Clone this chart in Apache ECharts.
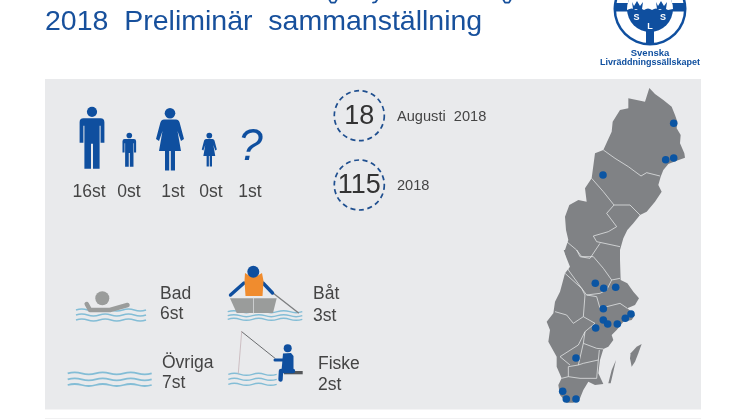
<!DOCTYPE html>
<html><head><meta charset="utf-8">
<style>html,body{margin:0;padding:0;background:#fff}#c{width:746px;height:419px}</style>
<script src="https://cdn.jsdelivr.net/npm/echarts@6/dist/echarts.min.js"></script>
</head><body><div id="c"></div>
<script>
const titleText = '2018  Preliminär  sammanställning';
const personCounts = [16, 0, 1, 0, 1];
const dateNumber = '18', dateLabel = 'Augusti  2018';
const yearNumber = '115', yearLabel = '2018';
const activityNames = ['Bad', 'Båt', 'Övriga', 'Fiske'];
const activityCounts = [6, 3, 7, 2];
const logoLines = ['Svenska', 'Livräddningssällskapet'];

// incident locations (x, y on the picture)
const incidentDots = [[673.7,123.3],[673.7,158],[665.7,159.7],[603,175],[595.3,283.3],[603.7,288.3],[615.7,287.3],[603.3,308.7],[603.3,320],[607.7,324],[617.3,324],[625.3,318.3],[631,314],[595.7,328],[576,358],[562.7,391.3],[566.3,399],[576,399]];

// map geometry
const N = p => p.map(a => [540 + a[0] / 3, 90 + a[1] / 3]);
const S = p => p.map(a => [540 + a[0] / 3, 250 + a[1] / 3]);
const mainland = [].concat(
  N([[328,-6],[345,12],[370,30],[395,50],[405,75],[412,95],[410,115],[422,135],[420,160],[433,190],[435,203],[410,212],[385,222],[370,240],[362,260],[355,285],[365,305],[345,335],[320,365],[300,375],[280,400],[262,420],[250,445],[240,480]]),
  S([[240,30],[242,90],[262,100],[280,125],[297,145],[285,165],[262,175],[285,195],[275,210],[250,215],[230,240],[215,255],[220,270],[205,290],[190,297],[180,330],[175,370],[190,402],[165,405],[145,395],[130,420],[120,445],[100,458],[80,458],[60,435],[55,405],[65,385],[50,350],[50,320],[25,275],[30,240],[20,215],[40,190],[45,155],[60,125],[75,70],[90,50],[70,0]]),
  N([[75,480],[85,450],[78,420],[75,380],[88,345],[115,330],[140,335],[135,295],[155,265],[165,190],[190,180],[215,125],[218,95],[240,60],[265,55],[265,25],[315,35]])
);
const islands = [
  S([[272,310],[290,290],[305,282],[295,310],[285,335],[275,350],[270,325]]),
  S([[205,400],[215,360],[228,330],[220,365],[212,400]])
];
const borders = [
  N([[190,180],[225,205],[265,230],[303,258],[320,248],[360,258]]),
  N([[155,265],[190,305],[222,345],[270,345],[300,375]]),
  N([[222,345],[200,370],[230,410],[205,425],[160,438],[170,455],[240,470]]),
  N([[80,455],[110,480],[120,500],[150,505],[180,460]]),
  S([[110,0],[125,20],[160,20],[190,55],[215,90],[240,85]]),
  S([[70,0],[85,60],[125,115],[140,135],[180,130],[200,120],[215,90]]),
  S([[75,70],[125,115],[135,135],[130,200],[100,220],[80,195],[45,185]]),
  S([[140,135],[170,140],[180,175],[240,160],[262,175]]),
  S([[130,200],[165,220],[135,245],[115,285],[60,320],[90,345]]),
  S([[135,245],[130,280],[170,295],[190,297]]),
  S([[130,280],[115,345],[85,350],[85,380],[65,385]]),
  S([[85,380],[120,385],[170,385],[175,330],[178,300]]),
  S([[115,345],[130,340],[175,330]])
];

const BLUE = '#0f4f9f', DARK = '#444444', FONT = '"Liberation Sans", Arial, sans-serif';
const WAVE = '#83bdd6', GREY = '#9a9c9b';

function txt(text, x, y, size, o) {
  o = o || {};
  return { type: 'text', x, y, style: { text, font: (o.style || '') + ' ' + (o.weight || '') + ' ' + size + 'px ' + FONT, fill: o.fill || DARK, textAlign: o.align || 'left', textVerticalAlign: 'middle', verticalAlign: 'middle' } };
}
function wavePath(x0, x1, y, n) {
  const step = (x1 - x0) / (n * 2);
  let d = 'M' + x0 + ' ' + y;
  for (let i = 0; i < n * 2; i++) {
    const s = i % 2 ? 1 : -1;
    d += ' Q' + (x0 + step * (i + .5)) + ' ' + (y + s * 2) + ' ' + (x0 + step * (i + 1)) + ' ' + y;
  }
  return d;
}
function waves(x0, x1, ys, n, lw) {
  return ys.map(y => ({ type: 'path', shape: { pathData: wavePath(x0, x1, y, n) }, style: { fill: 'none', stroke: WAVE, lineWidth: lw || 1.6 } }));
}
function line(pts, stroke, lw, dash) {
  return { type: 'polyline', shape: { points: pts }, style: { fill: 'none', stroke, lineWidth: lw, lineCap: 'round', lineJoin: 'round', lineDash: dash } };
}
function manIcon(x, y, k) {
  return { type: 'group', x, y, scaleX: k, scaleY: k, children: [
    { type: 'circle', shape: { cx: 0, cy: 5.1, r: 5.1 }, style: { fill: BLUE } },
    { type: 'path', shape: { pathData: 'M-8.5 11.5 H8.5 Q12.4 11.5 12.4 15.5 V36 H8.6 V19 H7.6 V62 H1 V37 H-1 V62 H-7.6 V19 H-8.6 V36 H-12.4 V15.5 Q-12.4 11.5 -8.5 11.5Z' }, style: { fill: BLUE } }
  ] };
}
function womanIcon(x, y, k) {
  return { type: 'group', x, y, scaleX: k, scaleY: k, children: [
    { type: 'circle', shape: { cx: 0, cy: 5.3, r: 5.3 }, style: { fill: BLUE } },
    { type: 'path', shape: { pathData: 'M-6 11.5 H6 Q8.6 11.5 9.6 14.5 L14 31 L11 33 L7.5 23 L11 43 H5 V62.5 H0.8 V43 H-0.8 V62.5 H-5 V43 H-11 L-7.5 23 L-11 33 L-14 31 L-9.6 14.5 Q-8.6 11.5 -6 11.5Z' }, style: { fill: BLUE } }
  ] };
}
const crown = 'M0 1 L2 5 L5 0 L8 5 L11 1 L10 8 H1Z';

const panel = [
  { type: 'rect', shape: { x: 45, y: 79, width: 656, height: 330.5 }, style: { fill: '#e9eaec' }, silent: true },
  { type: 'rect', shape: { x: 45, y: 418, width: 656, height: 1 }, style: { fill: '#f1f1f2' }, silent: true }
];
const artwork = [
  txt(titleText, 45, 22, 28.5, { fill: '#17509c' }),
  // clipped descenders of the cut-off first heading line
  line([[329.5,0],[331,2.6],[335,2.6],[336.5,0]], '#17509c', 1.8),
  line([[373,2.6],[375.5,2.2],[377,0]], '#17509c', 1.8),
  line([[503.5,0],[505,2.6],[509,2.6],[510.5,0]], '#17509c', 1.8),

  // logo
  { type: 'circle', shape: { cx: 650, cy: 9, r: 36.5 }, style: { fill: BLUE } },
  { type: 'circle', shape: { cx: 650, cy: 9, r: 34 }, style: { fill: '#fff' } },
  { type: 'rect', shape: { x: 614, y: 3, width: 72, height: 8.5 }, style: { fill: BLUE } },
  { type: 'rect', shape: { x: 646, y: 28, width: 8, height: 17 }, style: { fill: BLUE } },
  { type: 'circle', shape: { cx: 650, cy: 9, r: 23 }, style: { fill: BLUE } },
  { type: 'path', shape: { pathData: 'M627 10 Q632 7 636 10 Q640 7 644 10 Q648 7 652 10 Q656 7 660 10 Q664 7 668 10 L673 9 A23 23 0 0 0 627 9Z' }, style: { fill: '#fff' } },
  { type: 'path', x: 632, y: 1, shape: { pathData: crown }, style: { fill: BLUE } },
  { type: 'path', x: 656, y: 1, shape: { pathData: crown }, style: { fill: BLUE } },
  txt('S', 636.5, 18, 9, { weight: 'bold', fill: '#fff', align: 'center' }),
  txt('S', 663, 18, 9, { weight: 'bold', fill: '#fff', align: 'center' }),
  txt('L', 650, 27, 9, { weight: 'bold', fill: '#fff', align: 'center' }),
  txt(logoLines[0], 650, 53.5, 9.5, { weight: 'bold', fill: BLUE, align: 'center' }),
  txt(logoLines[1], 650, 63, 9, { weight: 'bold', fill: BLUE, align: 'center' }),

  // people
  manIcon(92, 106.7, 1),
  manIcon(129.3, 132.7, 0.55),
  womanIcon(170, 108, 1),
  womanIcon(209.3, 132.7, 0.54),
  txt('?', 250.5, 148, 44, { style: 'italic', fill: BLUE, align: 'center' }),
  txt(personCounts[0] + 'st', 89, 192.5, 17.5, { align: 'center' }),
  txt(personCounts[1] + 'st', 129, 192.5, 17.5, { align: 'center' }),
  txt(personCounts[2] + 'st', 173, 192.5, 17.5, { align: 'center' }),
  txt(personCounts[3] + 'st', 211, 192.5, 17.5, { align: 'center' }),
  txt(personCounts[4] + 'st', 250, 192.5, 17.5, { align: 'center' }),

  // dashed circles
  { type: 'circle', shape: { cx: 359.3, cy: 115.7, r: 25 }, style: { fill: 'none', stroke: '#1f4f8f', lineWidth: 1.7, lineDash: [5, 3.6] } },
  { type: 'circle', shape: { cx: 359.3, cy: 185, r: 25 }, style: { fill: 'none', stroke: '#1f4f8f', lineWidth: 1.7, lineDash: [5, 3.6] } },
  txt(dateNumber, 359.3, 116.5, 27, { align: 'center', fill: '#333333' }),
  txt(yearNumber, 359.3, 186, 27, { align: 'center', fill: '#333333' }),
  txt(dateLabel, 397, 117, 14.6),
  txt(yearLabel, 397, 186, 14.6),

  // Bad
  ...waves(76, 146, [310, 315, 320], 3),
  { type: 'circle', shape: { cx: 102.3, cy: 298.3, r: 7 }, style: { fill: GREY } },
  line([[86.7,304],[90,310],[110,310],[127.5,305]], GREY, 4.5),
  txt(activityNames[0], 160, 294, 17.5),
  txt(activityCounts[0] + 'st', 160, 314.5, 17.5),

  // Båt
  ...waves(227.7, 302.3, [311.7, 315.7, 319.3], 3, 1.4),
  { type: 'polygon', shape: { points: [[230,298.3],[276.7,298.3],[273,313],[236.7,313]] }, style: { fill: GREY } },
  line([[253.5,298],[253.5,313]], '#d8d9da', 0.8),
  line([[273.3,293.3],[298.3,312.7]], '#7d7f80', 1.4),
  line([[244,283],[230.5,295]], BLUE, 3.4),
  line([[263,283],[272.5,293]], BLUE, 3.4),
  { type: 'polygon', shape: { points: [[245,273],[250,276],[257,276],[262,273],[263.5,281],[262.5,296],[245.5,296],[244.5,281]] }, style: { fill: '#f08c2e' } },
  { type: 'circle', shape: { cx: 253.3, cy: 271.7, r: 6 }, style: { fill: BLUE } },
  txt(activityNames[1], 313, 294.5, 17.5),
  txt(activityCounts[1] + 'st', 313, 316.5, 17.5),

  // Övriga
  ...waves(67.7, 151.7, [373.3, 379.3, 385], 3, 1.8),
  txt(activityNames[2], 162, 363, 17.5),
  txt(activityCounts[2] + 'st', 162, 383.5, 17.5),

  // Fiske
  ...waves(228.3, 276.7, [374.3, 379.3, 384.3], 2, 1.4),
  line([[241.7,331.7],[275,358.3]], '#5b5d60', 0.9),
  line([[241.7,331.7],[238.3,373.3]], '#c9b9bd', 0.9),
  { type: 'rect', shape: { x: 284, y: 371, width: 18.7, height: 3.3 }, style: { fill: '#55575a' } },
  line([[275,360],[284,360]], BLUE, 3),
  line([[293,371],[281,371],[280.5,379.5]], BLUE, 4.4),
  { type: 'polygon', shape: { points: [[283,353.5],[291,353],[293.5,356],[293.5,371],[281.5,371]] }, style: { fill: BLUE } },
  { type: 'circle', shape: { cx: 287.7, cy: 348.3, r: 4 }, style: { fill: BLUE } },
  txt(activityNames[3], 318, 364, 17.5),
  txt(activityCounts[3] + 'st', 318, 385, 17.5)
];

const chart = echarts.init(document.getElementById('c'), null, { renderer: 'canvas' });
chart.setOption({
  animation: false,
  backgroundColor: '#fff',
  grid: { left: 0, right: 0, top: 0, bottom: 0, containLabel: false },
  xAxis: { type: 'value', min: 0, max: 746, show: false },
  yAxis: { type: 'value', min: 0, max: 419, inverse: true, show: false },
  tooltip: { show: false },
  graphic: { elements: panel },
  series: [
    {
      type: 'custom', z: 1, silent: true, clip: false, data: [[0, 0]],
      renderItem: (params, api) => {
        const pts = p => p.map(a => api.coord(a));
        return { type: 'group', children: [
          { type: 'polygon', shape: { points: pts(mainland) }, style: { fill: '#808285' } },
          ...islands.map(i => ({ type: 'polygon', shape: { points: pts(i) }, style: { fill: '#808285' } })),
          ...borders.map(b => ({ type: 'polyline', shape: { points: pts(b) }, style: { fill: 'none', stroke: '#eef0f1', lineWidth: 0.7 } }))
        ] };
      }
    },
    {
      type: 'custom', z: 2, silent: true, clip: false, data: [[0, 0]],
      renderItem: () => ({ type: 'group', children: artwork })
    },
    {
      type: 'scatter', z: 3, silent: true, symbol: 'circle', symbolSize: 7.6,
      itemStyle: { color: '#0b55a3', opacity: 1 }, data: incidentDots
    }
  ]
});
</script></body></html>
